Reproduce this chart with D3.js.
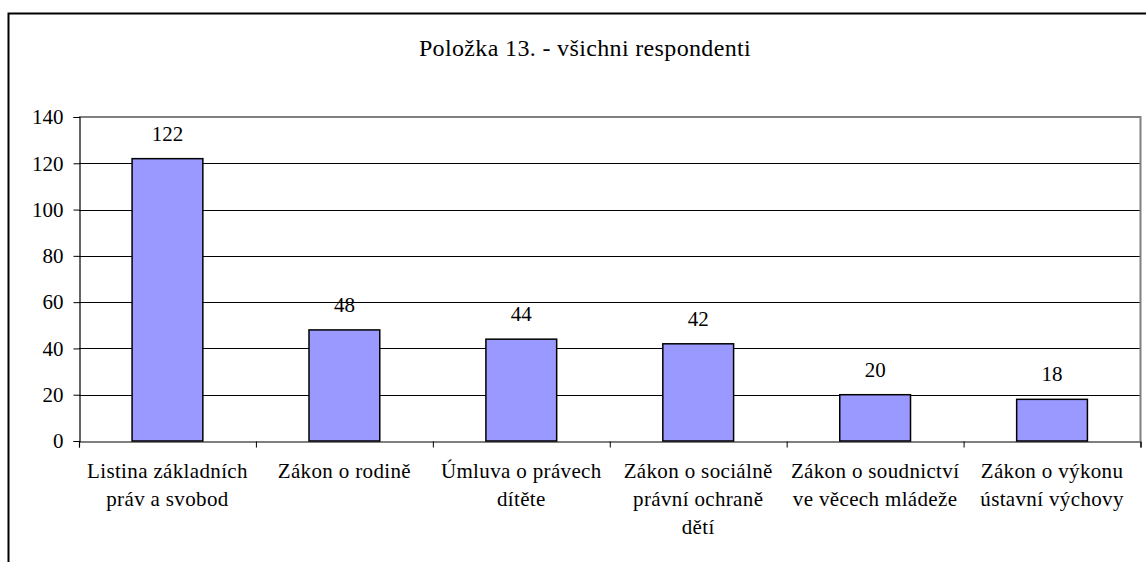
<!DOCTYPE html>
<html><head><meta charset="utf-8">
<script src="https://cdn.jsdelivr.net/npm/d3@7"></script>
<style>html,body{margin:0;padding:0;background:#fff;overflow:hidden}</style>
</head><body>
<svg id="c" width="1146" height="562"></svg>
<script>
const title = "Položka 13. - všichni respondenti";
const categories = [
  ["Listina základních", "práv a svobod"],
  ["Zákon o rodině"],
  ["Úmluva o právech", "dítěte"],
  ["Zákon o sociálně", "právní ochraně", "dětí"],
  ["Zákon o soudnictví", "ve věcech mládeže"],
  ["Zákon o výkonu", "ústavní výchovy"]
];
const values = [122, 48, 44, 42, 20, 18];
const yTicks = [0, 20, 40, 60, 80, 100, 120, 140];

const svg = d3.select("#c");
const font = '"Liberation Serif", "Times New Roman", serif';
const L = 79, R = 1140.5, T = 117, B = 441;

// outer frame
svg.append("rect").attr("x", 8.5).attr("y", 13.5).attr("width", 1160).attr("height", 600)
  .attr("fill", "none").attr("stroke", "#000").attr("stroke-width", 2);

svg.append("text").attr("x", 585).attr("y", 56).attr("text-anchor", "middle")
  .style("font-family", font).style("font-size", "24px").style("letter-spacing", "0.35px").text(title);

const ids = categories.map((c, i) => i);
const x = d3.scaleBand().domain(ids).range([L, R]).padding(0);
const y = d3.scaleLinear().domain([0, 140]).range([B, T]);

// gridlines
svg.append("g").selectAll("line").data(yTicks.filter(t => t > 0 && t < 140)).join("line")
  .attr("x1", L).attr("x2", R).attr("y1", d => Math.round(y(d)) + 0.5).attr("y2", d => Math.round(y(d)) + 0.5)
  .attr("stroke", "#000").attr("stroke-width", 1);

// plot border (top/right gray)
svg.append("path").attr("d", `M${L},${T}H${R}V${B}`).attr("fill", "none")
  .attr("stroke", "#808080").attr("stroke-width", 2);

// bars
const bw = x.bandwidth() * 0.4;
svg.append("g").selectAll("rect").data(values).join("rect")
  .attr("x", (d, i) => x(i) + (x.bandwidth() - bw) / 2)
  .attr("y", d => y(d))
  .attr("width", bw)
  .attr("height", d => B - y(d))
  .attr("fill", "#9999FF").attr("stroke", "#000").attr("stroke-width", 1.5);

// value labels
svg.append("g").selectAll("text").data(values).join("text")
  .attr("x", (d, i) => x(i) + x.bandwidth() / 2)
  .attr("y", d => y(d) - 18)
  .attr("text-anchor", "middle").style("font-family", font).style("font-size", "21px")
  .text(d => d);

// y axis
const yAxis = d3.axisLeft(y).tickValues(yTicks).tickSize(6).tickPadding(10);
const gy = svg.append("g").attr("transform", `translate(${L + 0.5},0)`).call(yAxis);
gy.select(".domain").attr("stroke", "#000").attr("stroke-width", 1.2);
gy.selectAll(".tick line").attr("stroke", "#000");
gy.selectAll(".tick text").style("font-family", font).style("font-size", "21px").attr("fill", "#000");

// x axis
const xb = d3.scaleLinear().domain([0, 6]).range([L, R]);
const gx = svg.append("g").attr("transform", `translate(0,${B + 0.5})`)
  .call(d3.axisBottom(xb).tickValues(d3.range(0, 7)).tickSize(6).tickFormat(""));
gx.select(".domain").attr("stroke", "#000").attr("stroke-width", 1.2);
gx.selectAll(".tick line").attr("stroke", "#000");

// category labels
const cl = svg.append("g").selectAll("text").data(categories).join("text")
  .attr("text-anchor", "middle").style("font-family", font).style("font-size", "21px")
  .style("letter-spacing", "0.35px");
cl.each(function(lines, i) {
  d3.select(this).selectAll("tspan").data(lines).join("tspan")
    .attr("x", x(i) + x.bandwidth() / 2)
    .attr("y", (l, j) => 478 + j * 28)
    .text(l => l);
});
</script>
</body></html>
